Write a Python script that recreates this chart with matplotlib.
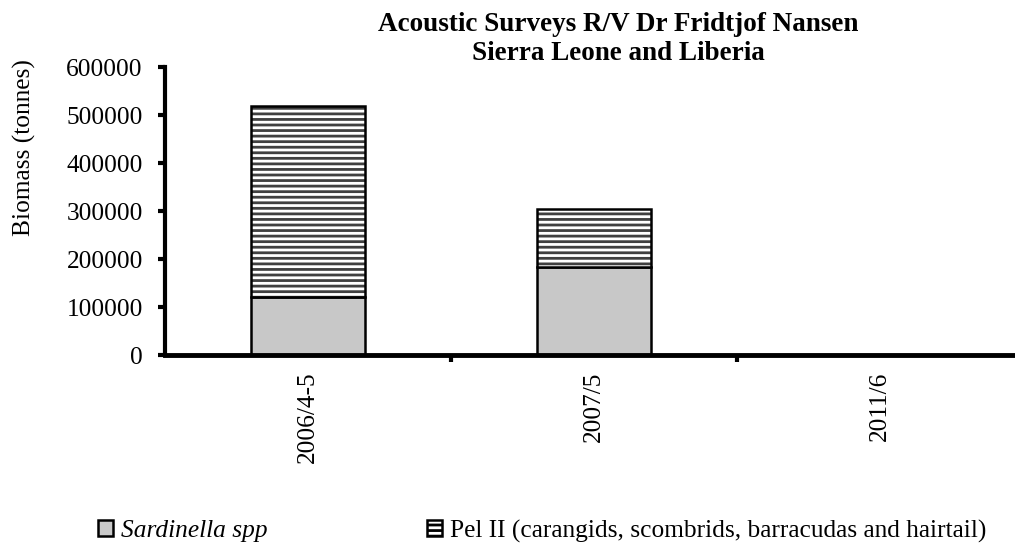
import matplotlib
matplotlib.use("Agg")
import matplotlib.pyplot as plt
from matplotlib.patches import Patch
import numpy as np

categories = ["2006/4-5", "2007/5", "2011/6"]
sardinella = [121000, 183000, 0]
pel2 = [397000, 121000, 0]
yticks = [0, 100000, 200000, 300000, 400000, 500000, 600000]

plt.rcParams['font.family'] = ['Liberation Serif', 'DejaVu Serif']
plt.rcParams['hatch.linewidth'] = 2.0

FS = 18.3

fig = plt.figure(figsize=(10.15, 5.5), dpi=100)
ax = fig.add_axes([165/1015, (550-355)/550, (1023-165)/1015, (355-67)/550])

x = np.arange(len(categories))
w = 0.40
sard_col = '#c8c8c8'
ax.bar(x, sardinella, width=w, color=sard_col, edgecolor='black', linewidth=1.8, zorder=2)
# hatched layer (hatch drawn in dark grey), then black outline on top
ax.bar(x, pel2, width=w, bottom=sardinella, color='white', edgecolor='#404040',
       hatch='---', linewidth=0, zorder=2)
ax.bar(x, pel2, width=w, bottom=sardinella, color='none', edgecolor='black',
       linewidth=1.8, zorder=3)

ax.set_xlim(-0.5, len(categories) - 0.5)
ax.set_ylim(0, 600000)
ax.set_yticks(yticks)
ax.set_yticklabels([str(v) for v in yticks], fontsize=FS)

ax.set_xticks(x + 0.5)
ax.set_xticklabels([])
ax.set_xticks(x, minor=True)
ax.set_xticklabels(categories, minor=True, rotation=90, fontsize=FS, va='top')
ax.tick_params(axis='x', which='minor', length=0, pad=12)
ax.tick_params(axis='x', which='major', length=5, width=3, direction='out')
ax.tick_params(axis='y', length=5, width=3, direction='out', pad=11)

for s in ['top', 'right']:
    ax.spines[s].set_visible(False)
ax.spines['left'].set_linewidth(3)
ax.spines['bottom'].set_linewidth(3.5)

fig.text(24/1015, 1 - 148/550, "Biomass (tonnes)", rotation=90, ha='center', va='center', fontsize=FS)
fig.text(0.609, 1 - 12/550, "Acoustic Surveys R/V Dr Fridtjof Nansen\nSierra Leone and Liberia",
         ha='center', va='top', fontsize=19.5, fontweight='bold', linespacing=1.22)

handles = [Patch(facecolor=sard_col, edgecolor='black', linewidth=1.8),
           Patch(facecolor='white', edgecolor='black', hatch='---', linewidth=1.8)]
labels = ["Sardinella spp", "Pel II (carangids, scombrids, barracudas and hairtail)"]
leg = fig.legend(handles, labels, loc='center left', bbox_to_anchor=(98/1015, 1 - 531/550),
                 ncol=2, frameon=False, fontsize=FS, handlelength=0.59, handleheight=0.59,
                 handletextpad=0.3, columnspacing=6.3, borderpad=0, borderaxespad=0)
leg.get_texts()[0].set_fontstyle('italic')

fig.savefig("out.png", dpi=100)
